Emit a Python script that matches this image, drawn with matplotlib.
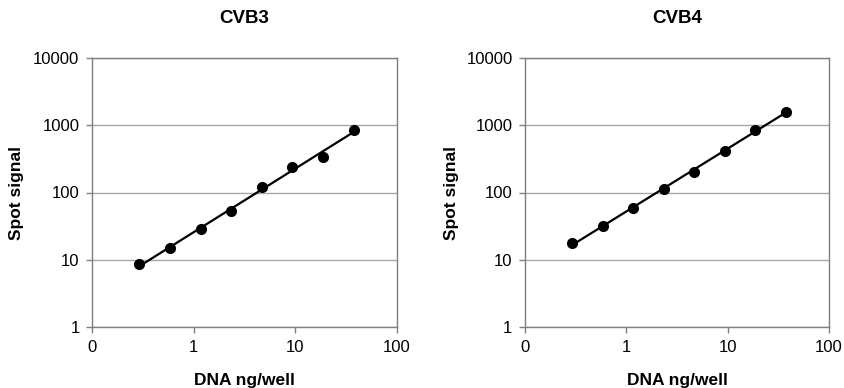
import numpy as np
import matplotlib
matplotlib.use("Agg")
import matplotlib.pyplot as plt
from matplotlib.ticker import FixedLocator, FixedFormatter, NullLocator

plt.rcParams['font.family'] = ['Liberation Sans', 'DejaVu Sans']

dna = [0.293, 0.586, 1.17, 2.34, 4.69, 9.375, 18.75, 37.5]
cvb3 = [8.5, 15, 28.6, 53.6, 119, 243, 342, 853]
cvb4 = [17.7, 31.7, 59.3, 113, 202, 420, 845, 1600]
titles = ["CVB3", "CVB4"]
xticks = [0.1, 1, 10, 100]
xticklabels = ["0", "1", "10", "100"]
yticks = [1, 10, 100, 1000, 10000]
yticklabels = ["1", "10", "100", "1000", "10000"]

W, H = 844, 388
fig = plt.figure(figsize=(W / 100, H / 100), dpi=100)

positions = [(92, 58, 397, 327), (525, 58, 829, 327)]
ylabel_x = [24, 459]
gray = "#808080"

for (x0, y0, x1, y1), lx_pix, title, vals in zip(positions, ylabel_x, titles, [cvb3, cvb4]):
    ax = fig.add_axes([x0 / W, 1 - y1 / H, (x1 - x0) / W, (y1 - y0) / H])
    ax.set_xscale("log")
    ax.set_yscale("log")
    ax.set_xlim(0.1, 100)
    ax.set_ylim(1, 10000)
    ax.xaxis.set_major_locator(FixedLocator(xticks))
    ax.xaxis.set_major_formatter(FixedFormatter(xticklabels))
    ax.yaxis.set_major_locator(FixedLocator(yticks))
    ax.yaxis.set_major_formatter(FixedFormatter(yticklabels))
    ax.xaxis.set_minor_locator(NullLocator())
    ax.yaxis.set_minor_locator(NullLocator())
    ax.grid(axis="y", color="#a8a8a8", linewidth=1.0)
    ax.set_axisbelow(True)
    for s in ax.spines.values():
        s.set_color(gray)
        s.set_linewidth(1.0)
    ax.tick_params(axis="both", which="major", direction="out", length=4,
                   width=1.0, color=gray, labelsize=12, labelcolor="black")
    ax.tick_params(axis="x", pad=5)
    ax.tick_params(axis="y", pad=5)

    lx = np.log10(dna)
    ly = np.log10(vals)
    b, a = np.polyfit(lx, ly, 1)
    xs = np.array([min(dna), max(dna)])
    ax.plot(xs, 10 ** (a + b * np.log10(xs)), color="black", linewidth=1.6, zorder=3)
    ax.plot(dna, vals, "o", color="black", markersize=7, zorder=4)

    ax.set_title(title, fontsize=13.5, fontweight="bold", pad=25)
    ax.set_ylabel("Spot signal", fontsize=12.5, fontweight="bold")
    ax.yaxis.set_label_coords((lx_pix - x0) / (x1 - x0), 0.5)
    ax.set_xlabel("DNA ng/well", fontsize=12.5, fontweight="bold")
    ax.xaxis.set_label_coords(0.5, (y1 - 373) / (y1 - y0))

fig.savefig("out.png", dpi=100)
